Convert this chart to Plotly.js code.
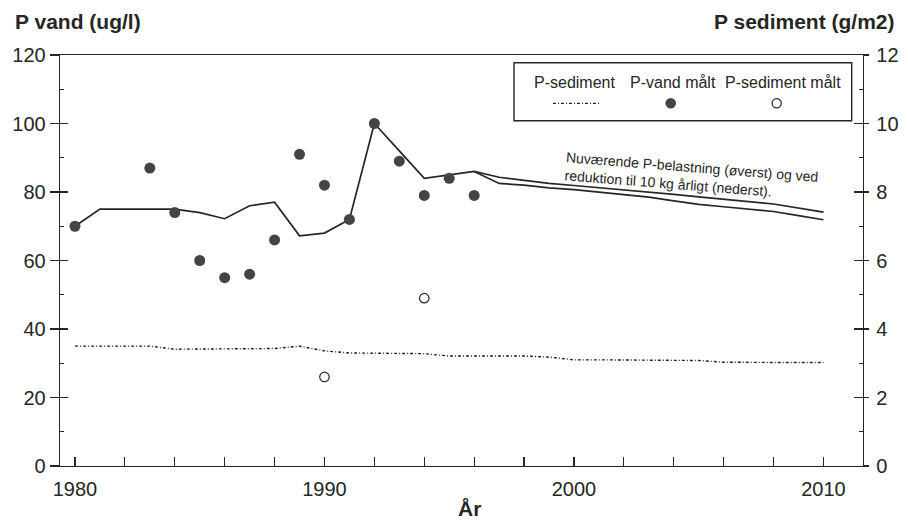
<!DOCTYPE html>
<html>
<head>
<meta charset="utf-8">
<script src="https://cdn.plot.ly/plotly-3.0.1.min.js"></script>
<style>html,body{margin:0;padding:0;background:#fff;}#chart{width:908px;height:525px;}</style>
</head>
<body>
<div id="chart"></div>
<script>
// Measured P in water (ug/l)
const measYears = [1980,1983,1984,1985,1986,1987,1988,1989,1990,1991,1992,1993,1994,1995,1996];
const pVandMaalt = [70,87,74,60,55,56,66,91,82,72,100,89,79,84,79];

// Measured P in sediment (g/m2)
const sedMeasYears = [1990,1994];
const pSedimentMaalt = [2.6,4.9];

// Modelled P in water, current load (upper) 1980-2010
const modelYears = [1980,1981,1982,1983,1984,1985,1986,1987,1988,1989,1990,1991,1992,1993,1994,1995,1996,1997,1998,1999,2000,2001,2002,2003,2004,2005,2006,2007,2008,2009,2010];
const pVandNu = [70,75,75,75,75,74,72.2,76,77,67.2,68,72,100,92,84,85,86,84.3,83.4,82.5,81.9,81.3,80.5,79.9,79.3,78.6,78.0,77.2,76.5,75.3,74.1];

// Modelled P in water, reduction to 10 kg/year (lower) 1996-2010
const redYears = [1996,1997,1998,1999,2000,2001,2002,2003,2004,2005,2006,2007,2008,2009,2010];
const pVandRed = [86,82.5,82.0,81.2,80.7,80.0,79.4,78.5,77.4,76.4,75.7,75.1,74.3,73.1,71.9];

// Modelled P in sediment (g/m2) 1980-2010
const pSediment = [3.5,3.5,3.5,3.5,3.41,3.41,3.41,3.41,3.43,3.5,3.36,3.3,3.3,3.3,3.28,3.21,3.21,3.21,3.21,3.18,3.1,3.1,3.1,3.1,3.1,3.08,3.03,3.02,3.02,3.02,3.02];

// Axis ticks
const xTickVals = [1980,1982,1984,1986,1988,1990,1992,1994,1996,1998,2000,2002,2004,2006,2008,2010];
const xTickText = ['1980','','','','','1990','','','','','2000','','','','','2010'];
const yLeftMajor = [0,20,40,60,80,100,120];
const yLeftMinor = [10,30,50,70,90,110];
const yRightMajor = [0,2,4,6,8,10,12];
const yRightMinor = [1,3,5,7,9,11];

// Text
const yLeftTitle = 'P vand (ug/l)';
const yRightTitle = 'P sediment (g/m2)';
const xTitle = 'År';
const legendNames = ['P-sediment','P-vand målt','P-sediment målt'];
const noteText = 'Nuværende P-belastning (øverst) og ved<br>reduktion til 10 kg årligt (nederst).';

const FONT = 'Liberation Sans, Arial, Helvetica, sans-serif';
const INK = '#262626';
const DASHDOT = '3px,2px,1px,2px';

const traces = [
  {x: modelYears, y: pSediment, yaxis: 'y2', type: 'scatter', mode: 'lines',
   line: {color: INK, width: 1.4, dash: DASHDOT}, name: legendNames[0], hoverinfo: 'skip'},
  {x: modelYears, y: pVandNu, type: 'scatter', mode: 'lines',
   line: {color: INK, width: 1.7}, name: 'Nuværende', hoverinfo: 'skip'},
  {x: redYears, y: pVandRed, type: 'scatter', mode: 'lines',
   line: {color: INK, width: 1.7}, name: 'Reduktion', hoverinfo: 'skip'},
  {x: measYears, y: pVandMaalt, type: 'scatter', mode: 'markers',
   marker: {color: '#444444', size: 11, line: {width: 0}}, name: legendNames[1], hoverinfo: 'skip'},
  {x: sedMeasYears, y: pSedimentMaalt, yaxis: 'y2', type: 'scatter', mode: 'markers',
   marker: {color: '#ffffff', size: 9.5, line: {color: INK, width: 1.2}}, name: legendNames[2], hoverinfo: 'skip'},
  // helper traces (draw nothing) so the tick-only overlay axes are active
  {x: measYears, y: pVandMaalt, yaxis: 'y3', type: 'scatter', mode: 'none', hoverinfo: 'skip'},
  {x: measYears, y: pVandMaalt, yaxis: 'y5', type: 'scatter', mode: 'none', hoverinfo: 'skip'},
  {x: sedMeasYears, y: pSedimentMaalt, yaxis: 'y4', type: 'scatter', mode: 'none', hoverinfo: 'skip'},
  {x: sedMeasYears, y: pSedimentMaalt, yaxis: 'y6', type: 'scatter', mode: 'none', hoverinfo: 'skip'}
];

// plot area in px: l=60, t=55, w=803, h=411
const L = 60, T = 55, W = 803, H = 411;
const px = v => (v - L) / W;
const py = v => (T + H - v) / H;

const shapes = [
  {type: 'rect', xref: 'paper', yref: 'paper', x0: px(514), x1: px(851.7), y0: py(120.7), y1: py(62.7),
   line: {color: INK, width: 1.4}, fillcolor: 'rgba(0,0,0,0)'},
  {type: 'line', xref: 'paper', yref: 'paper', x0: px(553), x1: px(600), y0: py(103.3), y1: py(103.3),
   line: {color: INK, width: 1.3, dash: DASHDOT}},
  {type: 'circle', xref: 'paper', yref: 'paper', xsizemode: 'pixel', ysizemode: 'pixel',
   xanchor: px(670.7), yanchor: py(103.3), x0: -5.3, x1: 5.3, y0: -5.3, y1: 5.3,
   fillcolor: '#444444', line: {width: 0}},
  {type: 'circle', xref: 'paper', yref: 'paper', xsizemode: 'pixel', ysizemode: 'pixel',
   xanchor: px(776.7), yanchor: py(103.3), x0: -4.6, x1: 4.6, y0: -4.6, y1: 4.6,
   fillcolor: '#ffffff', line: {color: INK, width: 1.2}}
];

const legFont = {family: FONT, size: 16, color: INK};
const annotations = [
  {xref: 'paper', yref: 'paper', x: px(574), y: py(82.3), text: legendNames[0], showarrow: false, font: legFont, xanchor: 'center', yanchor: 'middle'},
  {xref: 'paper', yref: 'paper', x: px(672.5), y: py(82.3), text: legendNames[1], showarrow: false, font: legFont, xanchor: 'center', yanchor: 'middle'},
  {xref: 'paper', yref: 'paper', x: px(782.5), y: py(82.3), text: legendNames[2], showarrow: false, font: legFont, xanchor: 'center', yanchor: 'middle'},
  {xref: 'x', yref: 'y', x: 2004.7, y: 84.8, text: noteText, showarrow: false, align: 'left', textangle: 4.5,
   font: {family: FONT, size: 14, color: INK}},
  {xref: 'paper', yref: 'paper', x: px(13), y: py(22), text: '<b>' + yLeftTitle + '</b>', showarrow: false,
   xanchor: 'left', yanchor: 'middle', font: {family: FONT, size: 21, color: INK}},
  {xref: 'paper', yref: 'paper', x: px(897), y: py(22), text: '<b>' + yRightTitle + '</b>', showarrow: false,
   xanchor: 'right', yanchor: 'middle', font: {family: FONT, size: 21, color: INK}},
  {xref: 'paper', yref: 'paper', x: px(469), y: py(508), text: '<b>' + xTitle + '</b>', showarrow: false,
   xanchor: 'center', yanchor: 'middle', font: {family: FONT, size: 21, color: INK}}
];

const tickFont = {family: FONT, size: 20, color: INK};
const tickOnly = (range, side, vals, len) => ({
  range: range, overlaying: 'y', anchor: 'x', side: side, showline: false, showticklabels: false,
  tickmode: 'array', tickvals: vals, ticks: 'inside', ticklen: len, tickwidth: 1.2, tickcolor: INK,
  showgrid: false, zeroline: false, fixedrange: true
});

const layout = {
  width: 908, height: 525,
  margin: {l: L, r: 908 - L - W, t: T, b: 525 - T - H, pad: 0},
  paper_bgcolor: '#ffffff', plot_bgcolor: '#ffffff',
  showlegend: false,
  font: {family: FONT, color: INK},
  xaxis: {range: [1979.4, 1979.4 + W / 24.95], showline: true, mirror: true, linecolor: INK, linewidth: 1.3,
          tickmode: 'array', tickvals: xTickVals, ticktext: xTickText,
          ticks: 'inside', ticklen: 9, tickwidth: 1.2, tickcolor: INK, ticklabelstandoff: 5,
          tickfont: tickFont, showgrid: false, zeroline: false, fixedrange: true},
  yaxis: {range: [0, 120], side: 'left', showline: true, linecolor: INK, linewidth: 1.3,
          tickmode: 'array', tickvals: yLeftMajor,
          ticks: 'outside', ticklen: 9, tickwidth: 1.2, tickcolor: INK,
          tickfont: tickFont, showgrid: false, zeroline: false, fixedrange: true},
  yaxis3: tickOnly([0, 120], 'left', yLeftMajor, 8),
  yaxis5: tickOnly([0, 120], 'left', yLeftMinor, 4),
  yaxis2: {range: [0, 12], overlaying: 'y', anchor: 'x', side: 'right', showline: true, linecolor: INK, linewidth: 1.3,
           tickmode: 'array', tickvals: yRightMajor,
           ticks: 'outside', ticklen: 5, tickwidth: 1.2, tickcolor: INK, ticklabelstandoff: 3,
           tickfont: tickFont, showgrid: false, zeroline: false, fixedrange: true},
  yaxis4: tickOnly([0, 12], 'right', yRightMajor, 9),
  yaxis6: tickOnly([0, 12], 'right', yRightMinor, 4),
  shapes: shapes,
  annotations: annotations
};

Plotly.newPlot('chart', traces, layout, {staticPlot: true, displayModeBar: false});
</script>
</body>
</html>
